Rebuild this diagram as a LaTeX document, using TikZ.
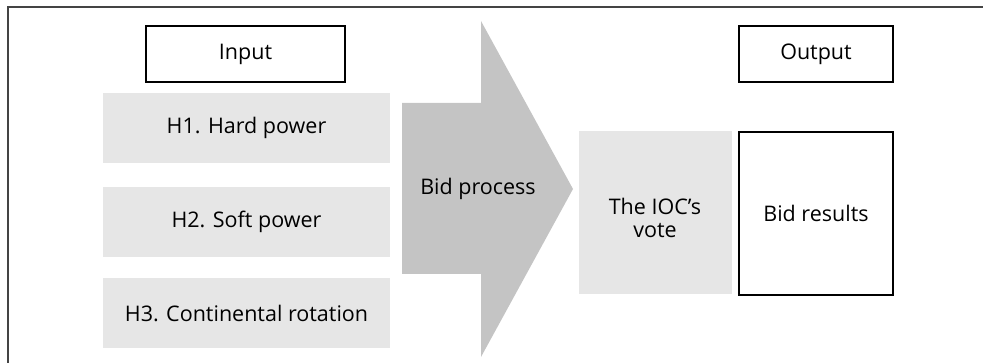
\documentclass[tikz,border=0pt]{standalone}
\usepackage{fontspec}
\setmainfont{Open Sans}
\usetikzlibrary{positioning}
\definecolor{boxgray}{HTML}{E6E6E6}
\definecolor{arrowgray}{HTML}{C4C4C4}
\definecolor{framegray}{HTML}{444444}

\begin{document}
\begin{tikzpicture}[x=1pt,y=-1pt,
    font=\fontsize{21.5}{26}\selectfont,
    hyp/.style={fill=boxgray,minimum width=287pt,minimum height=70pt,inner sep=0pt},
    head/.style={draw,line width=1.3pt,minimum height=56pt,inner sep=0pt},
    tall/.style={minimum width=153pt,minimum height=163pt,inner sep=0pt,align=center}]
    \useasboundingbox (0,0) rectangle (983,363);
    \draw[framegray,line width=2pt] (8,363) -- (8,7) -- (983,7);

    % column headings
    \path
    (245.5,54) node[head,minimum width=199pt] (input) {Input}
    (816,54) node[head,minimum width=154pt] (output) {Output}
    ;

    % hypotheses
    \path
    (246.5,128) node[hyp] (h1) {H1. Hard power}
    (246.5,222) node[hyp] (h2) {H2. Soft power}
    (246.5,313) node[hyp] (h3) {H3. Continental rotation}
    ;

    % the big arrow
    \fill[arrowgray] (402,103) -- (481,103) -- (481,21) -- (573,189)
      -- (481,357) -- (481,274) -- (402,274) -- cycle;
    \node (bid) at (478,189) {Bid process};

    % outcome
    \path
    (655,212.5) node[tall,fill=boxgray] (vote) {}
    (655,218) node[align=center] (votetext) {The IOC's\\[-3pt]vote}
    (816,213.5) node[tall,draw,line width=1.3pt,minimum width=154pt] (result) {Bid results}
    ;
\end{tikzpicture}
\end{document}
